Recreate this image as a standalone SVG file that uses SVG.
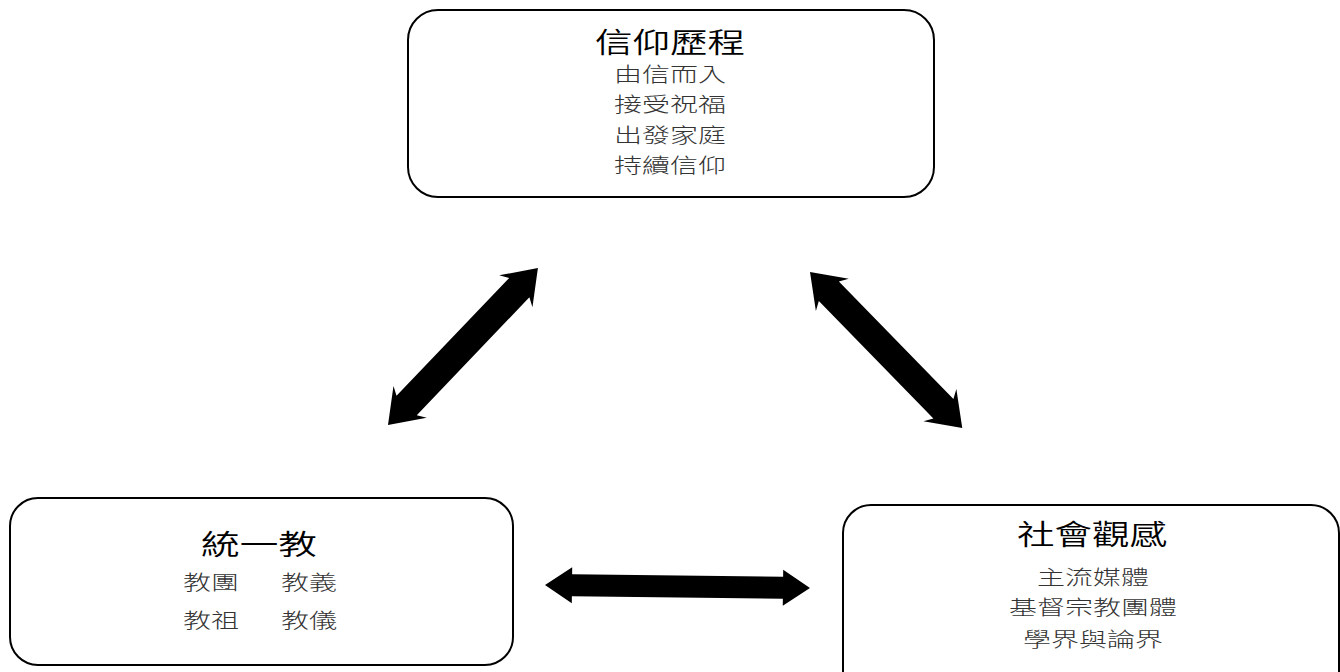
<svg xmlns="http://www.w3.org/2000/svg" width="1340" height="672" viewBox="0 0 1340 672">
<style>
.box{fill:#fff;stroke:#000;stroke-width:2}
.t{font-family:"Liberation Sans","Noto Sans CJK TC",sans-serif;text-anchor:middle;fill:#000}
.h{font-size:28px;font-weight:350}
.s{font-size:20px;fill:#333;font-weight:300}
.arr{fill:#000}
</style>
<rect width="1340" height="672" fill="#fff"/>
<g id="node-faith">
<rect class="box" x="408" y="10" width="526" height="187" rx="30"/>
<text class="t h" transform="translate(670,53) scale(1.34,1)">信仰歷程</text>
<text class="t s" transform="translate(670,82) scale(1.4,1)">由信而入</text>
<text class="t s" transform="translate(670,112) scale(1.4,1)">接受祝福</text>
<text class="t s" transform="translate(670,143) scale(1.4,1)">出發家庭</text>
<text class="t s" transform="translate(670,173) scale(1.4,1)">持續信仰</text>
</g>
<g id="node-unification">
<rect class="box" x="10" y="498" width="503" height="167" rx="28"/>
<text class="t h" transform="translate(259,555) scale(1.38,1)">統一教</text>
<text class="t s" transform="translate(211,590) scale(1.4,1)">教團</text>
<text class="t s" transform="translate(309,590) scale(1.4,1)">教義</text>
<text class="t s" transform="translate(211,628) scale(1.4,1)">教祖</text>
<text class="t s" transform="translate(309,628) scale(1.4,1)">教儀</text>
</g>
<g id="node-society">
<rect class="box" x="843" y="505" width="496" height="200" rx="28"/>
<text class="t h" transform="translate(1092,545) scale(1.34,1)">社會觀感</text>
<text class="t s" transform="translate(1093,585) scale(1.4,1)">主流媒體</text>
<text class="t s" transform="translate(1093,615) scale(1.4,1)">基督宗教團體</text>
<text class="t s" transform="translate(1093,647) scale(1.4,1)">學界與論界</text>
</g>
<g id="connectors">
<polygon class="arr" transform="translate(388,425) rotate(-46.3)" points="0,0 32,-23 27,-14 190,-14 185,-23 217,0 185,23 190,14 27,14 32,23"/>
<polygon class="arr" transform="translate(810,272) rotate(45.7)" points="0,0 32,-23 27,-14 191,-14 186,-23 218,0 186,23 191,14 27,14 32,23"/>
<polygon class="arr" transform="translate(545,585) rotate(0.65)" points="0,0 27,-18 27,-11 238,-11 238,-18 265,0 238,18 238,11 27,11 27,18"/>
</g>
</svg>
